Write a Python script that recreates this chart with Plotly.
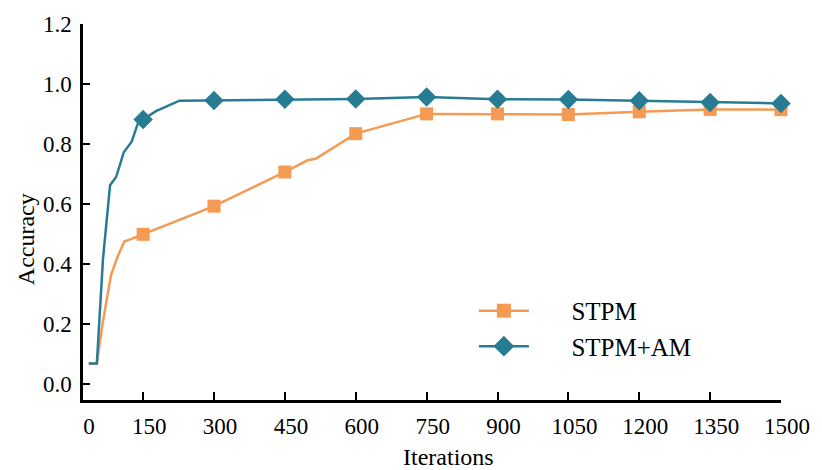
import plotly.graph_objects as go

# ---- data ----
iters_stpm = [35, 52, 65, 82, 95, 110, 124, 150, 300, 450, 498, 515, 600, 750, 900, 1050, 1200, 1350, 1500]
acc_stpm = [0.067, 0.067, 0.208, 0.362, 0.42, 0.474, 0.482, 0.498, 0.592, 0.706, 0.745, 0.750, 0.834, 0.900, 0.900, 0.898, 0.907, 0.915, 0.914]

iters_am = [35, 52, 65, 80, 93, 109, 126, 138, 150, 177, 227, 300, 450, 600, 750, 900, 1050, 1200, 1350, 1500]
acc_am = [0.067, 0.067, 0.416, 0.662, 0.690, 0.772, 0.808, 0.865, 0.881, 0.909, 0.944, 0.945, 0.949, 0.950, 0.956, 0.949, 0.948, 0.944, 0.938, 0.935]

x_ticks = [150, 300, 450, 600, 750, 900, 1050, 1200, 1350, 1500]
y_ticks = [0.0, 0.2, 0.4, 0.6, 0.8, 1.0, 1.2]
series_names = ["STPM", "STPM+AM"]

ORANGE = "#F59A52"
TEAL = "#277C94"
FONT = "Liberation Serif, Times New Roman, serif"

x_min, x_max = 22.7, 1500
y_min, y_max = -0.055, 1.2


def marked(xs, ys):
    pts = [(x, y) for x, y in zip(xs, ys) if x % 150 == 0]
    return [p[0] for p in pts], [p[1] for p in pts]


fig = go.Figure()
for name, xs, ys, col, sym, msize in [
    (series_names[0], iters_stpm, acc_stpm, ORANGE, "square", 13),
    (series_names[1], iters_am, acc_am, TEAL, "diamond", 15),
]:
    fig.add_trace(go.Scatter(x=xs, y=ys, mode="lines", line=dict(color=col, width=2.5),
                             showlegend=False, hoverinfo="skip", cliponaxis=False))
    mx, my = marked(xs, ys)
    fig.add_trace(go.Scatter(x=mx, y=my, mode="markers",
                             marker=dict(symbol=sym, size=msize, color=col),
                             showlegend=False, cliponaxis=False))
    fig.add_trace(go.Scatter(x=[None], y=[None], mode="lines+markers",
                             name="\u00a0\u00a0\u00a0\u00a0\u00a0\u00a0" + name,
                             line=dict(color=col, width=2.5),
                             marker=dict(symbol=sym, size=msize + 1, color=col)))

fig.update_layout(
    width=822, height=470,
    margin=dict(l=83, r=35, t=18, b=70),
    paper_bgcolor="white", plot_bgcolor="white",
    font=dict(family=FONT, color="black"),
    showlegend=True,
    legend=dict(x=0.56, y=0.298, xanchor="left", yanchor="top",
                font=dict(family=FONT, size=25, color="black"),
                bgcolor="rgba(0,0,0,0)", itemwidth=50),
    xaxis=dict(range=[x_min, x_max], showgrid=False, zeroline=False,
               showline=True, linecolor="black", linewidth=2.5,
               ticks="inside", ticklen=8, tickwidth=2, tickcolor="black",
               tickvals=[x_min] + x_ticks,
               ticktext=["0"] + [str(v) for v in x_ticks],
               tickfont=dict(family=FONT, size=23, color="black"),
               ticklabelshift=6, ticklabelstandoff=4),
    yaxis=dict(range=[y_min, y_max], showgrid=False, zeroline=False,
               showline=True, linecolor="black", linewidth=2.5,
               ticks="inside", ticklen=7, tickwidth=2, tickcolor="black",
               tickvals=y_ticks, ticktext=[f"{v:.1f}" for v in y_ticks],
               tickfont=dict(family=FONT, size=23, color="black"),
               ticklabelstandoff=4),
    annotations=[
        dict(text="Iterations", x=0.524, y=-0.152, xref="paper", yref="paper",
             showarrow=False, font=dict(family=FONT, size=24, color="black"),
             xanchor="center", yanchor="middle"),
        dict(text="Accuracy", x=-0.0824, y=0.429, xref="paper", yref="paper",
             showarrow=False, textangle=-90,
             font=dict(family=FONT, size=24, color="black"),
             xanchor="center", yanchor="middle"),
    ],
)

fig.write_html("out.html")
